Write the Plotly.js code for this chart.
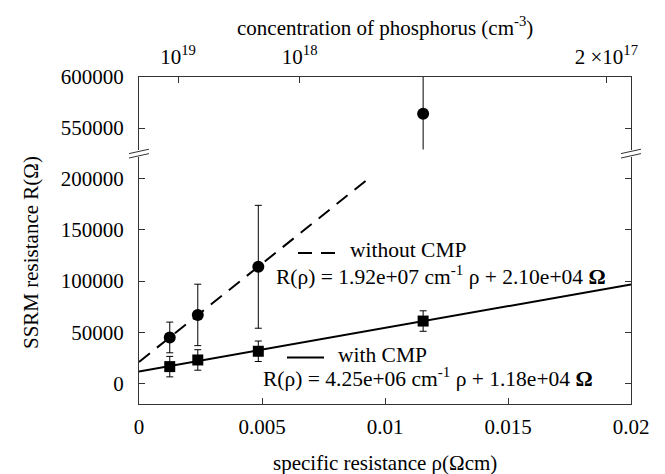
<!DOCTYPE html>
<html>
<head>
<meta charset="utf-8">
<script src="https://cdn.plot.ly/plotly-3.0.1.min.js"></script>
<style>html,body{margin:0;padding:0;background:#fff;}#chart{width:665px;height:474px;}</style>
</head>
<body>
<div id="chart"></div>
<script>
// ---- data ----
const rho = [0.00125, 0.00239, 0.00485, 0.01155];          // specific resistance (Ohm cm)
const withoutCMP = [45000, 67000, 114000, 564000];          // SSRM resistance without CMP
const withoutErr = [15000, 30000, 60000, 50000];
const withCMP = [16500, 23000, 31500, 61000];               // SSRM resistance with CMP
const withErr = [10000, 10000, 10000, 10000];
const slopeWithout = 1.92e7, interceptWithout = 2.10e4;    // fit without CMP
const slopeWith = 4.25e6, interceptWith = 1.18e4;          // fit with CMP
const fitWithoutX = [0, 0.00932];
const fitWithX = [0, 0.02];
const xTickVals = [0, 0.005, 0.01, 0.015, 0.02];
const xTickText = ['0', '0.005', '0.01', '0.015', '0.02'];
const concTickPos = [0.00159, 0.00653, 0.0190];
const concTickText = ['10<sup>19</sup>', '10<sup>18</sup>', '2 ×10<sup>17</sup>'];
const legendWithout = ['without CMP', 'R(ρ) = 1.92e+07 cm<sup>-1</sup> ρ + 2.10e+04 <b>Ω</b>'];
const legendWith = ['with CMP', 'R(ρ) = 4.25e+06 cm<sup>-1</sup> ρ + 1.18e+04 <b>Ω</b>'];

// ---- layout geometry (pixels) ----
const W = 665, H = 474;
const L = 139, R = 34, T = 77, B = 70;
const PW = W - L - R, PH = H - T - B;
const px = x => (x - L) / PW;
const py = y => (H - B - y) / PH;
const FONT = 'Liberation Serif';
const AX = '#333';

const lowerN = 3;
const traces = [
  {x: fitWithoutX, y: fitWithoutX.map(v => slopeWithout * v + interceptWithout), xaxis: 'x', yaxis: 'y',
   mode: 'lines', line: {color: '#000', width: 2, dash: '14px,9px'}, hoverinfo: 'skip'},
  {x: fitWithX, y: fitWithX.map(v => slopeWith * v + interceptWith), xaxis: 'x', yaxis: 'y',
   mode: 'lines', line: {color: '#000', width: 2}, hoverinfo: 'skip'},
  {x: rho.slice(0, lowerN), y: withoutCMP.slice(0, lowerN), xaxis: 'x', yaxis: 'y', mode: 'markers',
   marker: {symbol: 'circle', size: 12, color: '#000'},
   error_y: {type: 'data', array: withoutErr.slice(0, lowerN), color: '#000', thickness: 1, width: 3.5}},
  {x: rho.slice(lowerN), y: withoutCMP.slice(lowerN), xaxis: 'x2', yaxis: 'y2', mode: 'markers',
   marker: {symbol: 'circle', size: 12, color: '#000'},
   error_y: {type: 'data', array: withoutErr.slice(lowerN), color: '#000', thickness: 1, width: 3.5}},
  {x: rho, y: withCMP, xaxis: 'x', yaxis: 'y', mode: 'markers',
   marker: {symbol: 'square', size: 11, color: '#000'},
   error_y: {type: 'data', array: withErr, color: '#000', thickness: 1, width: 3.5}}
];

const tickFont = {family: FONT, size: 21, color: '#000'};
const lowerTop = 157, upperBottom = 149.5;

const shapes = [];
function seg(x0, y0, x1, y1) {
  shapes.push({type: 'line', xref: 'paper', yref: 'paper', x0: px(x0), y0: py(y0), x1: px(x1), y1: py(y1),
               line: {color: AX, width: 1}});
}
// axis break marks
[L, L + PW].forEach(ax => {
  seg(ax - 10, 153.6, ax + 10, 149.2);
  seg(ax - 10, 158.0, ax + 10, 153.6);
});
// legend samples
shapes.push({type: 'line', xref: 'paper', yref: 'paper', x0: px(298), y0: py(253), x1: px(338), y1: py(253),
             line: {color: '#000', width: 2, dash: '14px,9px'}});
shapes.push({type: 'line', xref: 'paper', yref: 'paper', x0: px(287), y0: py(357.5), x1: px(324), y1: py(357.5),
             line: {color: '#000', width: 2}});

function ann(text, x, y, xanchor, size, extra) {
  return Object.assign({text: text, xref: 'paper', yref: 'paper', x: px(x), y: py(y), xanchor: xanchor,
    yanchor: 'middle', showarrow: false, font: {family: FONT, size: size, color: '#000'}}, extra || {});
}
const annotations = [
  ann('concentration of phosphorus (cm<sup>-3</sup>)', L + PW / 2, 27, 'center', 21),
  ann('specific resistance ρ(Ωcm)', L + PW / 2, 463, 'center', 21),
  ann('SSRM resistance R(Ω)', 31, 253, 'center', 21, {textangle: -90}),
  ann(legendWithout[0], 348, 250, 'left', 21.5),
  ann(legendWithout[1], 274, 275, 'left', 21.5),
  ann(legendWith[0], 336, 355, 'left', 21.5),
  ann(legendWith[1], 261, 377, 'left', 21.5)
];

const layout = {
  width: W, height: H,
  margin: {l: L, r: R, t: T, b: B, autoexpand: false},
  paper_bgcolor: '#fff', plot_bgcolor: '#fff',
  showlegend: false,
  font: {family: FONT, size: 21, color: '#000'},
  xaxis: {domain: [0, 1], anchor: 'y', range: [0, 0.02], tickvals: xTickVals, ticktext: xTickText,
    ticks: 'inside', ticklen: 6, tickcolor: AX, showline: true, linecolor: AX, linewidth: 1,
    mirror: false, showgrid: false, zeroline: false, tickfont: tickFont, ticklabelstandoff: 4},
  yaxis: {domain: [0, py(lowerTop)], anchor: 'x', range: [-20000, 221200], dtick: 50000, tick0: 0,
    ticks: 'inside', ticklen: 6, tickcolor: AX, showline: true, linecolor: AX, linewidth: 1,
    mirror: 'ticks', showgrid: false, zeroline: false, tickfont: tickFont, ticklabelstandoff: 10,
    tickformat: 'd'},
  xaxis2: {domain: [0, 1], anchor: 'y2', side: 'top', range: [0, 0.02], tickvals: concTickPos,
    ticktext: concTickText, ticks: 'inside', ticklen: 6, tickcolor: AX, showline: true, linecolor: AX,
    linewidth: 1, mirror: false, showgrid: false, zeroline: false, tickfont: tickFont, ticklabelstandoff: 4},
  yaxis2: {domain: [py(upperBottom), 1], anchor: 'x2', range: [529000, 600000], dtick: 50000, tick0: 0,
    ticks: 'inside', ticklen: 6, tickcolor: AX, showline: true, linecolor: AX, linewidth: 1,
    mirror: 'ticks', showgrid: false, zeroline: false, tickfont: tickFont, ticklabelstandoff: 10,
    tickformat: 'd'},
  shapes: shapes,
  annotations: annotations
};

Plotly.newPlot('chart', traces, layout, {displayModeBar: false, staticPlot: true});
</script>
</body>
</html>
